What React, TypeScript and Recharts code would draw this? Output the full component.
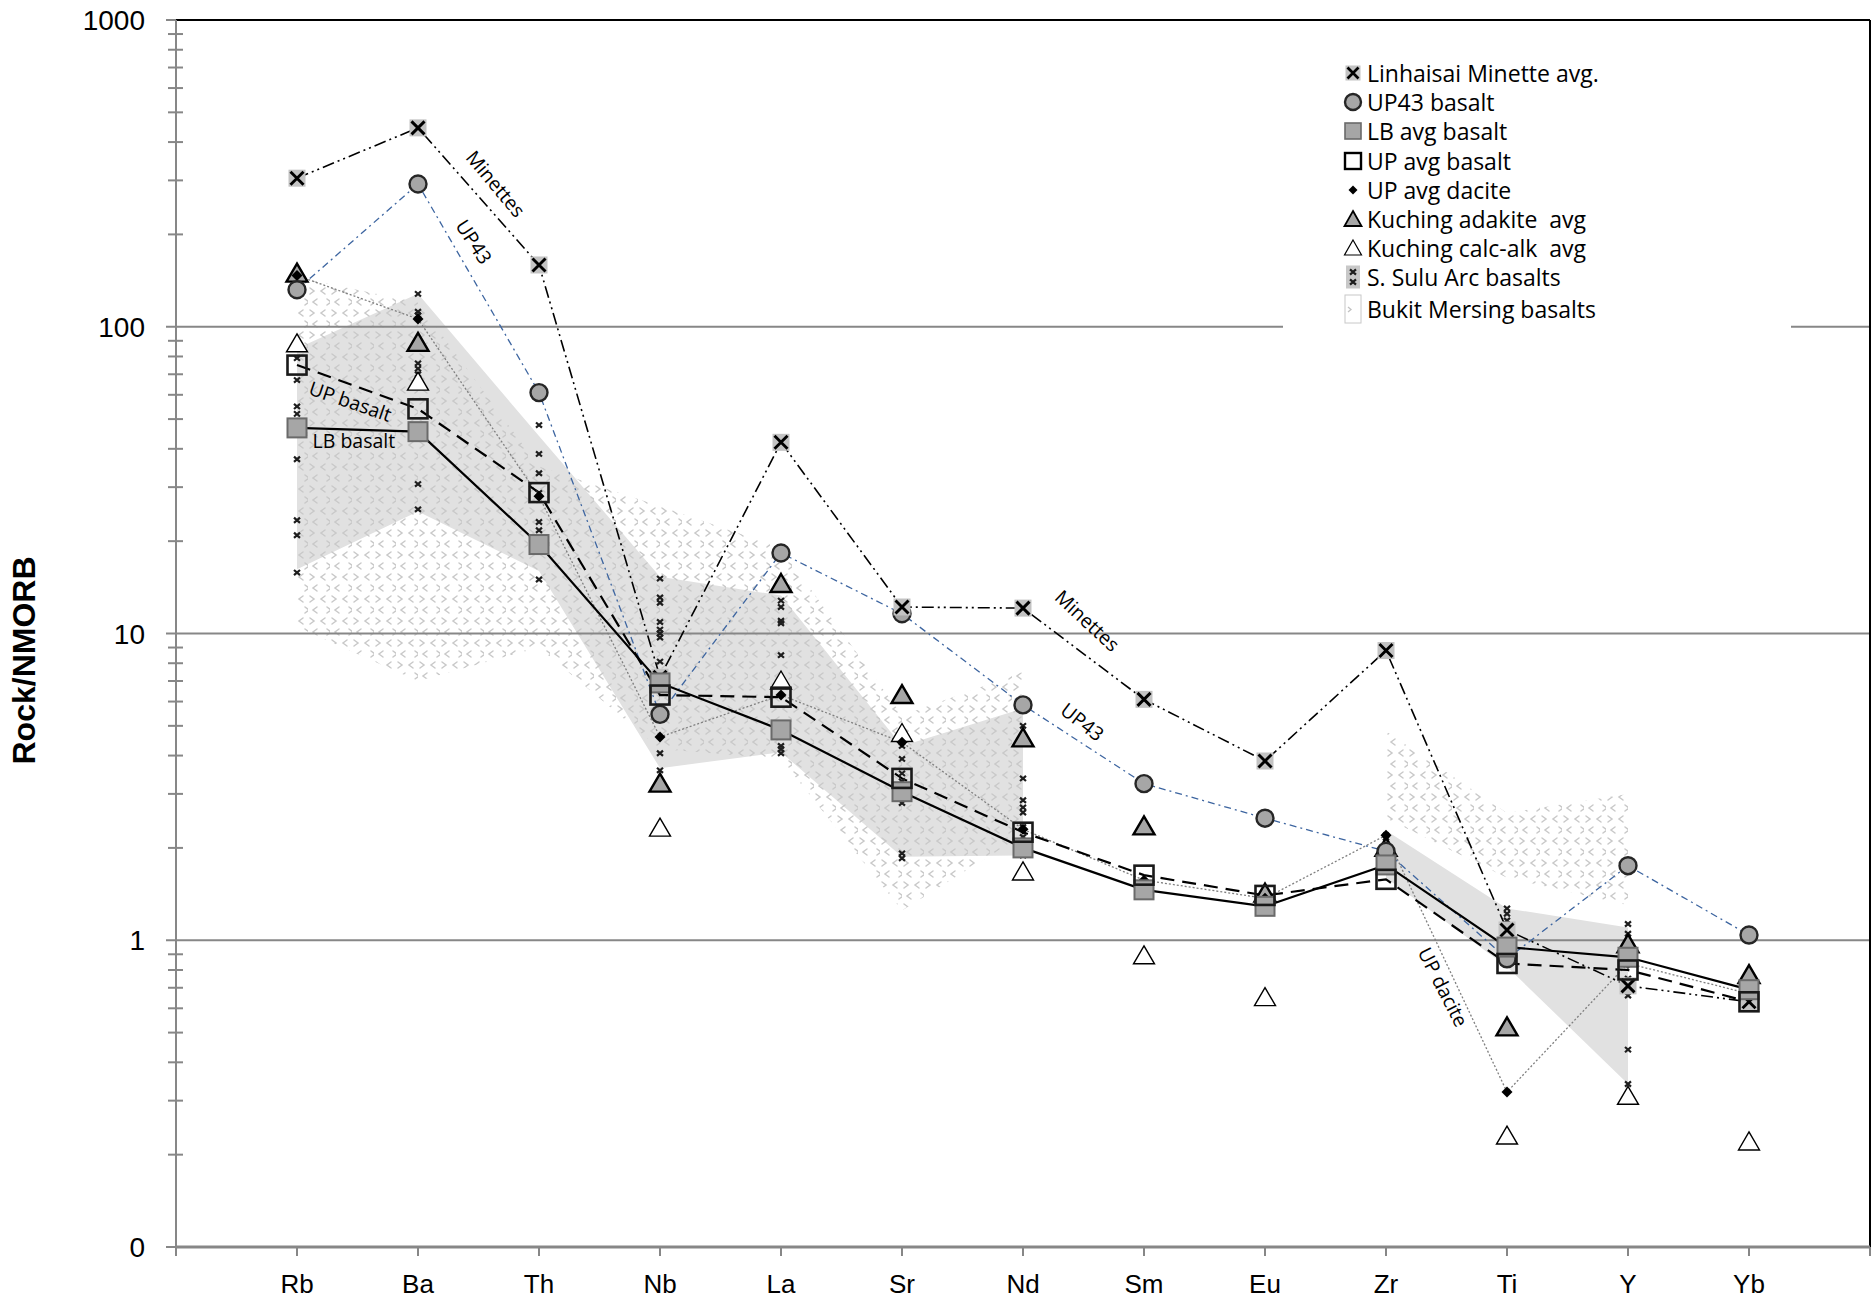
import React from 'react';
import {
  ComposedChart,
  Line,
  Area,
  Scatter,
  XAxis,
  YAxis,
  ReferenceLine,
  ReferenceDot,
  Legend,
} from 'recharts';

// element order along the x axis (positions 1..13)
const elements = ['Rb', 'Ba', 'Th', 'Nb', 'La', 'Sr', 'Nd', 'Sm', 'Eu', 'Zr', 'Ti', 'Y', 'Yb'];
const xTicks = [0, 1, 2, 3, 4, 5, 6, 7, 8, 9, 10, 11, 12, 13, 14];
const yMajor = [0.1, 1, 10, 100, 1000];
const yMinor = [
  0.2, 0.3, 0.4, 0.5, 0.6, 0.7, 0.8, 0.9,
  2, 3, 4, 5, 6, 7, 8, 9,
  20, 30, 40, 50, 60, 70, 80, 90,
  200, 300, 400, 500, 600, 700, 800, 900,
];
const yGrid = [1, 10, 100];

// averages, normalised to NMORB
const minetteAvg = [305, 445, 159, 7.2, 42, 12.2, 12.1, 6.1, 3.84, 8.8, 1.08, 0.71, 0.63];
const up43Basalt = [132, 292, 61, 5.45, 18.3, 11.6, 5.85, 3.24, 2.5, 1.95, 0.87, 1.75, 1.04];
const lbAvgBasalt = [46.8, 45.5, 19.5, 6.9, 4.85, 3.05, 2.0, 1.46, 1.29, 1.76, 0.95, 0.88, 0.69];
const upAvgBasalt = [75, 54, 28.8, 6.3, 6.2, 3.37, 2.25, 1.63, 1.4, 1.58, 0.84, 0.8, 0.63];
const upAvgDacite = [147, 106, 28, 4.6, 6.3, 4.42, 2.3, 1.57, 1.37, 2.2, 0.32, 0.84, 0.67];
const kuchingAdakite = [149, 88.6, null, 3.24, 14.5, 6.3, 4.55, 2.35, 1.42, 2.0, 0.52, 0.97, 0.77];
const kuchingCalcAlk = [88, 66, null, 2.32, 7.0, 4.72, 1.67, 0.89, 0.65, null, 0.23, 0.31, 0.22];

// individual S. Sulu Arc basalt samples per element
const suluSamples: number[][] = [
  [79, 67, 55, 52, 37, 23.4, 20.9, 15.8],
  [128, 112, 109, 76, 73, 70, 30.7, 25.4],
  [47.8, 38.5, 33.3, 28.7, 23.1, 21.7, 19.4, 15.0],
  [15.1, 13.1, 12.6, 10.9, 10.3, 10.0, 9.7, 8.1, 4.07, 3.58],
  [12.8, 12.2, 11.0, 10.8, 8.5, 4.3, 4.2, 4.07],
  [4.3, 3.9, 3.5, 3.3, 2.8, 1.92, 1.85],
  [5.7, 5.0, 3.37, 2.86, 2.71, 2.61, 2.34, 2.17, 1.89],
  [],
  [],
  [2.2, 2.1, 2.0, 1.9],
  [1.27, 1.22, 1.16, 1.12, 1.05, 1.0],
  [1.13, 1.05, 0.85, 0.75, 0.66, 0.44, 0.34],
  [],
];

// field envelopes (low / high)
const suluLow = [16.2, 25, 16, 3.64, 4.1, 1.87, 1.89, null, null, 1.6, 0.82, 0.34, null];
const suluHigh = [85, 128, 44, 15.3, 13.3, 4.3, 5.7, null, null, 2.28, 1.27, 1.1, null];
const mersingLow = [10.5, 7.0, 9, 4.2, 3.9, 1.25, 2.2, null, null, 2.5, 1.6, 1.3, null];
const mersingHigh = [145, 120, 35, 26, 19, 5.4, 7.5, null, null, 4.8, 2.6, 3.0, null];

// in-plot labels, placed in data coordinates
const notes = [
  { text: 'Minettes', x: 2.64, y: 292, angle: 50 },
  { text: 'UP43', x: 2.46, y: 189, angle: 57 },
  { text: 'UP basalt', x: 1.44, y: 57, angle: 19 },
  { text: 'LB basalt', x: 1.47, y: 42.4, angle: 0 },
  { text: 'Minettes', x: 7.53, y: 11.0, angle: 43 },
  { text: 'UP43', x: 7.49, y: 5.14, angle: 38 },
  { text: 'UP dacite', x: 10.47, y: 0.703, angle: 63 },
];

const legendItems = [
  { label: 'Linhaisai Minette avg.', icon: 'minette' },
  { label: 'UP43 basalt', icon: 'circle' },
  { label: 'LB avg basalt', icon: 'greySquare' },
  { label: 'UP avg basalt', icon: 'openSquare' },
  { label: 'UP avg dacite', icon: 'diamond' },
  { label: 'Kuching adakite  avg', icon: 'greyTriangle' },
  { label: 'Kuching calc-alk  avg', icon: 'openTriangle' },
  { label: 'S. Sulu Arc basalts', icon: 'sulu' },
  { label: 'Bukit Mersing basalts', icon: 'mersing' },
];

const range = (lo: (number | null)[], hi: (number | null)[], i: number) =>
  lo[i] == null || hi[i] == null ? null : [lo[i], hi[i]];

const rows = elements.map((el, i) => ({
  x: i + 1,
  el,
  minette: minetteAvg[i],
  up43: up43Basalt[i],
  lb: lbAvgBasalt[i],
  up: upAvgBasalt[i],
  dacite: upAvgDacite[i],
  sulu: range(suluLow, suluHigh, i),
  mersing: range(mersingLow, mersingHigh, i),
}));

const pointsOf = (vals: (number | null)[]) =>
  vals.flatMap((v, i) => (v == null ? [] : [{ x: i + 1, y: v }]));

const suluPoints = suluSamples.flatMap((vals, i) => vals.map((v) => ({ x: i + 1, y: v })));

const LABEL_FONT = '"Open Sans", "DejaVu Sans", sans-serif';
const AXIS_FONT = '"Liberation Sans", Arial, sans-serif';
const GRID = '#878787';

// ---- marker shapes ----
const XSquare = ({ cx, cy }: { cx: number; cy: number }) => (
  <g>
    <rect x={cx - 8.5} y={cy - 8.5} width={17} height={17} fill="#c3c3c3" />
    <path
      d={`M${cx - 6.5} ${cy - 6.5}L${cx + 6.5} ${cy + 6.5}M${cx + 6.5} ${cy - 6.5}L${cx - 6.5} ${cy + 6.5}`}
      stroke="#000"
      strokeWidth={2.9}
    />
  </g>
);

const GreyCircle = ({ cx, cy }: { cx: number; cy: number }) => (
  <circle cx={cx} cy={cy} r={8.5} fill="#a6a6a6" stroke="#262626" strokeWidth={2.4} />
);

const GreySquare = ({ cx, cy }: { cx: number; cy: number }) => (
  <rect x={cx - 9.5} y={cy - 9.5} width={19} height={19} fill="#a6a6a6" stroke="#6a6a6a" strokeWidth={2} />
);

const OpenSquare = ({ cx, cy }: { cx: number; cy: number }) => (
  <rect x={cx - 9.5} y={cy - 9.5} width={19} height={19} fill="none" stroke="#1a1a1a" strokeWidth={2.6} />
);

const Diamond = ({ cx, cy }: { cx: number; cy: number }) => (
  <path d={`M${cx} ${cy - 5.5}L${cx + 5.5} ${cy}L${cx} ${cy + 5.5}L${cx - 5.5} ${cy}Z`} fill="#000" />
);

const Triangle = ({ cx, cy, filled }: { cx: number; cy: number; filled: boolean }) => (
  <path
    d={`M${cx} ${cy - 10}L${cx + 10.5} ${cy + 8}L${cx - 10.5} ${cy + 8}Z`}
    fill={filled ? '#a6a6a6' : '#fff'}
    stroke="#000"
    strokeWidth={filled ? 2.4 : 1.4}
    strokeLinejoin="miter"
  />
);

const SmallX = ({ cx, cy }: { cx: number; cy: number }) => (
  <path
    d={`M${cx - 3} ${cy - 2.6}L${cx + 3} ${cy + 2.6}M${cx + 3} ${cy - 2.6}L${cx - 3} ${cy + 2.6}`}
    stroke="#1e1e1e"
    strokeWidth={2.2}
  />
);

// one tile of the Bukit Mersing "> <" texture
const chevronMarks = (
  <g stroke="#c9c9c9" strokeWidth={1.5} fill="none" strokeLinecap="round">
    <path d="M2 2L6 5L2 8" />
    <path d="M17 2L13 5L17 8" />
    <path d="M9 13L5 16L9 19" />
    <path d="M19 13L23 16L19 19" />
  </g>
);

// ---- y axis ticks: labelled decades plus minor marks crossing the axis ----
const YTick = (props: any) => {
  const { x, y, payload } = props;
  const v = payload.value as number;
  const major = yMajor.includes(v);
  if (!major) {
    return <line x1={x - 8} x2={x + 7} y1={y} y2={y} stroke={GRID} strokeWidth={2} />;
  }
  return (
    <g>
      <line x1={x - 10} x2={x} y1={y} y2={y} stroke={GRID} strokeWidth={2} />
      <text x={x - 31} y={y} dy="0.36em" textAnchor="end" fontFamily={AXIS_FONT} fontSize={28} fill="#000">
        {v < 1 ? '0' : String(v)}
      </text>
    </g>
  );
};

const LegendIcon = ({ kind }: { kind: string }) => {
  const cx = 13;
  const cy = 16;
  switch (kind) {
    case 'minette':
      return (
        <g>
          <rect x={cx - 7.5} y={cy - 7.5} width={15} height={15} fill="#c3c3c3" />
          <path
            d={`M${cx - 5.5} ${cy - 5.5}L${cx + 5.5} ${cy + 5.5}M${cx + 5.5} ${cy - 5.5}L${cx - 5.5} ${cy + 5.5}`}
            stroke="#000"
            strokeWidth={2.7}
          />
        </g>
      );
    case 'circle':
      return <circle cx={cx} cy={cy} r={8} fill="#a6a6a6" stroke="#262626" strokeWidth={2.4} />;
    case 'greySquare':
      return <rect x={cx - 8} y={cy - 8} width={16} height={16} fill="#a6a6a6" stroke="#6a6a6a" strokeWidth={1.6} />;
    case 'openSquare':
      return <rect x={cx - 8} y={cy - 8} width={16} height={16} fill="#fff" stroke="#000" strokeWidth={2.4} />;
    case 'diamond':
      return <path d={`M${cx} ${cy - 4.5}L${cx + 4.5} ${cy}L${cx} ${cy + 4.5}L${cx - 4.5} ${cy}Z`} fill="#000" />;
    case 'greyTriangle':
      return <path d={`M${cx} ${cy - 8}L${cx + 8.5} ${cy + 7}L${cx - 8.5} ${cy + 7}Z`} fill="#a6a6a6" stroke="#000" strokeWidth={1.8} />;
    case 'openTriangle':
      return <path d={`M${cx} ${cy - 8}L${cx + 8.5} ${cy + 7}L${cx - 8.5} ${cy + 7}Z`} fill="#fff" stroke="#000" strokeWidth={1.2} />;
    case 'sulu':
      return (
        <g>
          <rect x={cx - 7} y={cy - 11.5} width={14} height={23} fill="#c8c8c8" />
          <SmallX cx={cx} cy={cy - 5} />
          <SmallX cx={cx} cy={cy + 5} />
        </g>
      );
    default:
      return (
        <g>
          <rect x={cx - 8} y={cy - 14} width={16} height={28} fill="#fff" stroke="#c8c8c8" strokeWidth={1} />
          <path d={`M${cx - 5} ${cy - 2}L${cx - 2} ${cy + 0.5}L${cx - 5} ${cy + 3}`} stroke="#c2c2c2" strokeWidth={1.3} fill="none" />
        </g>
      );
  }
};

const LegendBox = () => (
  <div style={{ width: 508, height: 300, background: '#fff', position: 'relative' }}>
    {legendItems.map((item, i) => (
      <div
        key={item.label}
        style={{
          position: 'absolute',
          left: 57,
          top: 12 + i * 29.2 + (i === 8 ? 2 : 0),
          height: 32,
          display: 'flex',
          alignItems: 'center',
          whiteSpace: 'pre',
        }}
      >
        <svg width={27} height={32} style={{ flex: 'none' }}>
          <LegendIcon kind={item.icon} />
        </svg>
        <span style={{ fontFamily: LABEL_FONT, fontSize: 23, color: '#000', lineHeight: '32px' }}>{item.label}</span>
      </div>
    ))}
  </div>
);

const noteShape = (text: string, angle: number) => (p: any) => (
  <text
    x={p.cx}
    y={p.cy}
    dy="0.35em"
    textAnchor="middle"
    fontFamily={LABEL_FONT}
    fontSize={19.5}
    fill="#000"
    transform={`rotate(${angle} ${p.cx} ${p.cy})`}
  >
    {text}
  </text>
);

export default function App() {
  return (
    <div style={{ position: 'absolute', left: 0, top: 0, width: 1872, height: 1300, background: '#fff' }}>
      <ComposedChart width={1872} height={1300} data={rows} margin={{ top: 20, right: 2, bottom: 0, left: 0 }}>
        <defs>
          <pattern id="mersingChevrons" width={22} height={22} patternUnits="userSpaceOnUse">
            {chevronMarks}
          </pattern>
        </defs>
        <XAxis
          type="number"
          dataKey="x"
          domain={[0, 14]}
          ticks={xTicks}
          interval={0}
          allowDataOverflow
          height={53}
          tickSize={9}
          tickMargin={19}
          tickFormatter={(v: number) => elements[v - 1] ?? ''}
          axisLine={{ stroke: GRID, strokeWidth: 3 }}
          tickLine={{ stroke: GRID, strokeWidth: 2 }}
          tick={{ fontSize: 26, fill: '#000', fontFamily: '"Liberation Sans Narrow", "Liberation Sans", Arial, sans-serif' }}
        />
        <YAxis
          type="number"
          scale="log"
          domain={[0.1, 1000]}
          ticks={[...yMajor, ...yMinor]}
          interval={0}
          allowDataOverflow
          width={176}
          tickSize={0}
          tickMargin={0}
          tickLine={false}
          axisLine={{ stroke: GRID, strokeWidth: 2 }}
          tick={<YTick />}
          label={{
            content: (p: any) => {
              const vb = p.viewBox;
              const cy = vb.y + vb.height / 2 + 27;
              return (
                <text
                  x={23}
                  y={cy}
                  textAnchor="middle"
                  dy="0.36em"
                  fontFamily={AXIS_FONT}
                  fontWeight="bold"
                  fontSize={32}
                  fill="#000"
                  transform={`rotate(-90 23 ${cy})`}
                >
                  Rock/NMORB
                </text>
              );
            },
          }}
        />

        <Area
          dataKey="sulu"
          name="S. Sulu Arc basalts"
          type="linear"
          stroke="none"
          fill="#e1e1e1"
          fillOpacity={1}
          connectNulls={false}
          dot={false}
          activeDot={false}
          isAnimationActive={false}
        />
        <Area
          dataKey="mersing"
          name="Bukit Mersing basalts"
          type="linear"
          stroke="none"
          fill="url(#mersingChevrons)"
          fillOpacity={1}
          connectNulls={false}
          dot={false}
          activeDot={false}
          isAnimationActive={false}
        />

        {yGrid.map((v) => (
          <ReferenceLine key={v} y={v} stroke={GRID} strokeWidth={2} />
        ))}
        <ReferenceLine y={1000} stroke="#000" strokeWidth={2} />
        <ReferenceLine x={14} stroke="#000" strokeWidth={2} />

        <Line
          dataKey="dacite"
          name="UP avg dacite"
          type="linear"
          stroke="#7f7f7f"
          strokeWidth={1.3}
          strokeDasharray="2 2"
          dot={false}
          activeDot={false}
          isAnimationActive={false}
        />
        <Line
          dataKey="up43"
          name="UP43 basalt"
          type="linear"
          stroke="#3d65a0"
          strokeWidth={1.3}
          strokeDasharray="7 4 2 4"
          dot={(p: any) => <GreyCircle key={`c${p.index}`} cx={p.cx} cy={p.cy} />}
          activeDot={false}
          isAnimationActive={false}
        />
        <Line
          dataKey="minette"
          name="Linhaisai Minette avg."
          type="linear"
          stroke="#000"
          strokeWidth={1.6}
          strokeDasharray="12 4 2 4 2 4"
          dot={(p: any) => <XSquare key={`m${p.index}`} cx={p.cx} cy={p.cy} />}
          activeDot={false}
          isAnimationActive={false}
        />
        <Line
          dataKey="lb"
          name="LB avg basalt"
          type="linear"
          stroke="#000"
          strokeWidth={2.2}
          dot={(p: any) => <GreySquare key={`l${p.index}`} cx={p.cx} cy={p.cy} />}
          activeDot={false}
          isAnimationActive={false}
        />
        <Line
          dataKey="up"
          name="UP avg basalt"
          type="linear"
          stroke="#000"
          strokeWidth={2.2}
          strokeDasharray="14 8"
          dot={(p: any) => <OpenSquare key={`u${p.index}`} cx={p.cx} cy={p.cy} />}
          activeDot={false}
          isAnimationActive={false}
        />

        <Scatter
          data={suluPoints}
          dataKey="y"
          name="S. Sulu Arc samples"
          shape={(p: any) => <SmallX cx={p.cx} cy={p.cy} />}
          isAnimationActive={false}
        />
        <Scatter
          data={pointsOf(kuchingAdakite)}
          dataKey="y"
          name="Kuching adakite  avg"
          shape={(p: any) => <Triangle cx={p.cx} cy={p.cy} filled />}
          isAnimationActive={false}
        />
        <Scatter
          data={pointsOf(kuchingCalcAlk)}
          dataKey="y"
          name="Kuching calc-alk  avg"
          shape={(p: any) => <Triangle cx={p.cx} cy={p.cy} filled={false} />}
          isAnimationActive={false}
        />
        <Scatter
          data={pointsOf(upAvgDacite)}
          dataKey="y"
          name="UP avg dacite points"
          shape={(p: any) => <Diamond cx={p.cx} cy={p.cy} />}
          isAnimationActive={false}
        />

        {notes.map((n) => (
          <ReferenceDot key={`${n.text}${n.x}`} x={n.x} y={n.y} r={0} shape={noteShape(n.text, n.angle)} />
        ))}

        <Legend
          layout="vertical"
          align="center"
          verticalAlign="middle"
          content={() => <LegendBox />}
          wrapperStyle={{ left: 1283, top: 45, width: 508, height: 300 }}
        />
      </ComposedChart>
    </div>
  );
}
